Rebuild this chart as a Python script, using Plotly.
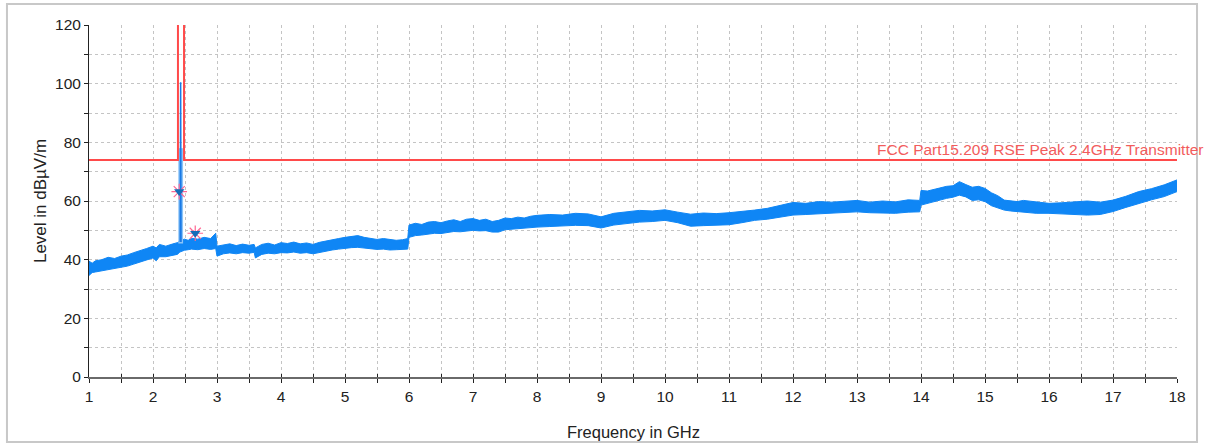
import plotly.graph_objects as go

# ---- data ----
freq_ghz = [1.00, 1.05, 1.10, 1.20, 1.30, 1.40, 1.50, 1.60, 1.70, 1.80, 1.90, 2.00, 2.05, 2.10, 2.20, 2.30, 2.38,
            2.42, 2.49, 2.55, 2.60, 2.70, 2.80, 2.90, 2.98,
            3.00, 3.10, 3.20, 3.30, 3.40, 3.50, 3.58,
            3.60, 3.70, 3.80, 3.90, 4.00, 4.10, 4.20, 4.30, 4.40, 4.50, 4.60, 4.70, 4.80, 4.90, 5.00,
            5.10, 5.20, 5.30, 5.40, 5.50, 5.60, 5.70, 5.80, 5.90, 5.98,
            6.00, 6.10, 6.20, 6.30, 6.40, 6.50, 6.60, 6.70, 6.80, 6.90, 7.00, 7.10, 7.20, 7.30, 7.40,
            7.50, 7.60, 7.70, 7.80, 7.90, 8.00, 8.20, 8.40, 8.60, 8.80, 9.00, 9.20, 9.40, 9.60, 9.80,
            10.00, 10.20, 10.40, 10.60, 10.80, 11.00, 11.20, 11.40, 11.60, 11.80, 12.00, 12.20, 12.40,
            12.60, 12.80, 13.00, 13.20, 13.40, 13.60, 13.80, 13.98,
            14.00, 14.10, 14.20, 14.30, 14.40, 14.50, 14.60, 14.70, 14.80, 14.90, 15.00, 15.10, 15.20,
            15.30, 15.40, 15.50, 15.60, 15.80, 16.00, 16.20, 16.40, 16.60, 16.80, 17.00, 17.20, 17.40,
            17.60, 17.80, 18.00]

level_upper = [39.5, 38.8, 39.6, 40.0, 40.8, 40.4, 41.2, 41.6, 42.4, 43.0, 43.8, 44.6, 44.0, 45.2, 44.6, 45.3, 45.8,
               46.4, 47.0, 46.6, 47.3, 47.0, 47.6, 47.2, 49.0,
               44.6, 45.0, 45.4, 44.8, 45.3, 44.9, 45.2,
               44.0, 45.2, 45.6, 45.0, 45.8, 45.5, 46.0, 45.4, 45.7, 45.2, 45.9, 46.4, 46.8, 47.2, 47.6,
               47.9, 48.2, 47.6, 47.3, 46.9, 47.2, 46.8, 46.6, 46.8, 47.2,
               51.8, 52.4, 52.0, 52.8, 53.0, 52.6, 53.2, 53.6, 53.0, 53.8, 54.0, 53.4, 53.8, 53.0, 53.4,
               54.2, 54.0, 54.5, 54.2, 54.8, 55.1, 55.4, 55.2, 55.8, 55.6, 54.6, 55.8, 56.4, 56.8, 56.6,
               57.0, 56.2, 55.5, 55.9, 55.7, 56.0, 56.4, 56.9, 57.5, 58.4, 59.5, 59.2, 59.8,
               59.6, 60.0, 60.2, 59.6, 60.0, 59.7, 60.4, 60.2,
               63.6, 63.4, 64.0, 64.6, 65.0, 65.2, 66.6, 65.6, 64.7, 65.0, 64.3, 62.8, 61.8,
               60.3, 60.0, 59.8, 60.2, 59.6, 59.2, 59.4, 59.8, 60.0, 59.6, 60.3, 61.6, 63.2,
               64.2, 65.5, 67.2]

level_lower = [34.6, 35.6, 35.8, 36.2, 36.6, 37.0, 37.3, 37.8, 38.5, 39.2, 40.0, 40.6, 39.6, 41.0, 41.0, 41.4, 41.8,
               42.6, 43.2, 43.4, 43.6, 43.4, 43.8, 43.5, 43.8,
               41.2, 42.0, 42.3, 42.0, 42.4, 42.2, 42.5,
               40.6, 41.8, 42.2, 42.0, 42.4, 42.3, 42.6, 42.2, 42.4, 42.0, 42.5, 42.9, 43.3, 43.6, 43.9,
               44.1, 44.2, 44.0, 43.8, 43.5, 43.6, 43.3, 43.4, 43.4, 43.6,
               47.6, 48.2, 48.4, 48.8, 49.0, 48.9, 49.2, 49.6, 49.5, 49.8, 50.0, 49.8, 49.9, 49.4, 49.4,
               50.2, 50.4, 50.6, 50.7, 50.8, 51.1, 51.3, 51.5, 51.7, 51.6, 50.8, 51.8, 52.4, 52.8, 53.0,
               53.4, 52.6, 51.4, 51.6, 51.7, 51.9, 52.6, 53.4, 53.8, 54.5, 55.2, 55.4, 55.6,
               55.8, 56.0, 56.3, 56.0, 55.8, 55.8, 56.2, 56.3,
               58.6, 59.2, 59.8, 60.4, 60.9, 61.3, 62.0, 61.4, 60.2, 60.4, 59.8, 58.4, 57.6,
               56.9, 56.6, 56.4, 56.2, 55.8, 55.8, 55.6, 55.4, 55.2, 55.4, 56.4, 57.8, 59.2,
               60.4, 61.5, 63.2]

# carrier (2.4 GHz transmitter) region
carrier_col_f = [2.395, 2.470]
carrier_col_hi = [78.0, 78.0]
carrier_col_lo = [45.5, 45.5]
spike_f = [2.425, 2.432, 2.438]
spike_v = [46.0, 100.5, 46.0]

# peak markers
marker_f = [2.41, 2.66]
marker_v = [63.2, 49.0]

# limit line: FCC Part 15.209 RSE Peak 2.4GHz Transmitter
limit_f = [1.0, 2.39, 2.39, None, 2.485, 2.485, 18.0]
limit_v = [74, 74, 120, None, 120, 74, 74]
limit_name = "FCC Part15.209 RSE Peak 2.4GHz Transmitter"

x_ticks = list(range(1, 19))
y_ticks = [0, 20, 40, 60, 80, 100, 120]

BLUE = "#0f86f5"
RED = "#ff4a4a"
FONT = "Liberation Sans"

fig = go.Figure()

# noise band
fig.add_trace(go.Scatter(x=freq_ghz, y=level_lower, mode="lines",
                         line=dict(color=BLUE, width=1), hoverinfo="skip", showlegend=False))
fig.add_trace(go.Scatter(x=freq_ghz, y=level_upper, mode="lines", fill="tonexty",
                         fillcolor=BLUE, line=dict(color=BLUE, width=1), showlegend=False))

# carrier column and spike
fig.add_trace(go.Scatter(x=carrier_col_f, y=carrier_col_lo, mode="lines",
                         line=dict(color="#8cc4f7", width=0), showlegend=False))
fig.add_trace(go.Scatter(x=carrier_col_f, y=carrier_col_hi, mode="lines", fill="tonexty",
                         fillcolor="#8cc4f7", line=dict(color="#8cc4f7", width=0), showlegend=False))
fig.add_trace(go.Scatter(x=spike_f, y=spike_v, mode="lines",
                         line=dict(color="#1a7ae6", width=1.5), showlegend=False))

# limit line
fig.add_trace(go.Scatter(x=limit_f, y=limit_v, mode="lines", connectgaps=False,
                         line=dict(color=RED, width=2), name=limit_name, showlegend=False))

# markers: red asterisk under dark blue triangle
fig.add_trace(go.Scatter(x=marker_f, y=marker_v, mode="markers",
                         marker=dict(symbol="asterisk-open", size=13, line=dict(color="#ff5050", width=1.2)),
                         showlegend=False))
fig.add_trace(go.Scatter(x=marker_f, y=marker_v, mode="markers",
                         marker=dict(symbol="triangle-down", size=9, color="#156cb8",
                                     line=dict(width=0)), showlegend=False))

# dummy trace for inner tick marks on the x axis
fig.add_trace(go.Scatter(x=[None], y=[None], xaxis="x2", showlegend=False))

fig.add_annotation(text=limit_name, xref="paper", x=1.0257,
                   xanchor="right", yref="y", y=74, yanchor="bottom", yshift=0, showarrow=False,
                   font=dict(family=FONT, size=15.5, color="#f25c5c"))

# axis titles
fig.add_annotation(text="Frequency in GHz", xref="paper", x=0.5, yref="paper", y=-0.156,
                   xanchor="center", yanchor="middle", showarrow=False,
                   font=dict(family=FONT, size=16.5, color="#222"))
fig.add_annotation(text="Level in dBµV/m", xref="paper", x=-0.045, yref="paper", y=0.5,
                   xanchor="center", yanchor="middle", textangle=-90, showarrow=False,
                   font=dict(family=FONT, size=17, color="#222"))

# outer frame
fig.add_shape(type="rect", xref="paper", yref="paper", x0=-0.0754, x1=1.0184, y0=-0.1847, y1=1.0597,
              line=dict(color="#c8c8c8", width=2), layer="below")

grid = dict(showgrid=True, gridcolor="#c4c4c4", griddash="3px,3px", gridwidth=1)

fig.update_layout(
    width=1212, height=443,
    margin=dict(l=89, r=35, t=25, b=66),
    paper_bgcolor="white", plot_bgcolor="white",
    font=dict(family=FONT, size=15, color="#222"),
    xaxis=dict(range=[1, 18], tickvals=x_ticks, ticks="outside", ticklen=4, tickcolor="#222",
               automargin=False, tickfont=dict(size=15.5),
               showline=True, linecolor="#6a6a6a", linewidth=2, zeroline=False,
               minor=dict(dtick=0.5, tick0=1, ticks="outside", ticklen=4, tickcolor="#222",
                          showgrid=True, gridcolor="#c4c4c4", griddash="3px,3px"),
               **grid),
    xaxis2=dict(range=[1, 18], overlaying="x", side="bottom", anchor="y", automargin=False,
                tickvals=[1 + 0.5 * i for i in range(35)], ticks="inside", ticklen=3,
                tickcolor="#222", showticklabels=False, showgrid=False, showline=False, zeroline=False),
    yaxis=dict(range=[0, 120], tickvals=y_ticks, ticks="outside", ticklen=4, tickcolor="#222",
               automargin=False, tickfont=dict(size=15.5),
               showline=True, linecolor="#222", linewidth=1, zeroline=False,
               minor=dict(dtick=10, tick0=0, ticks="outside", ticklen=4, tickcolor="#222",
                          showgrid=True, gridcolor="#c4c4c4", griddash="3px,3px"),
               **grid),
)

fig.write_html("out.html", config={"displayModeBar": False},
               post_script="document.body.style.margin='0';document.body.style.overflow='hidden';")
